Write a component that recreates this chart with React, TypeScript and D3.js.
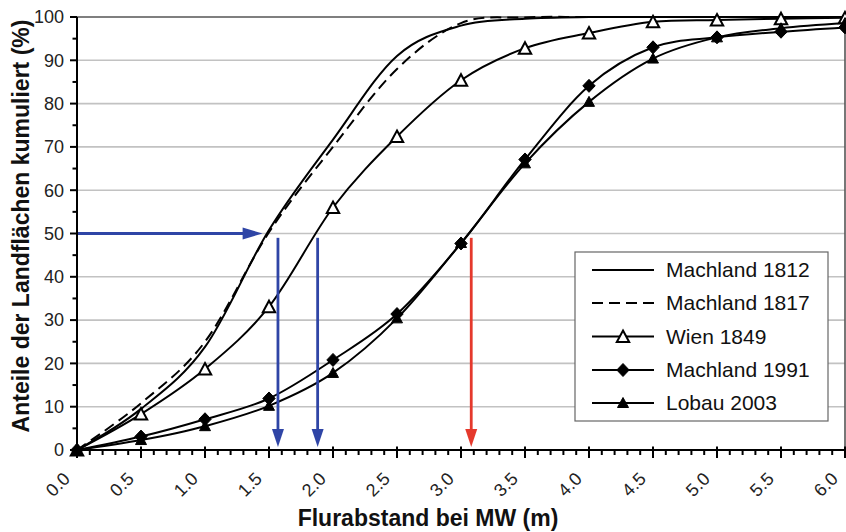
import React from 'react';
import * as d3 from 'd3';

// Flurabstand (m) at which the cumulative shares were read
const depths = [0, 0.5, 1.0, 1.5, 2.0, 2.5, 3.0, 3.5, 4.0, 4.5, 5.0, 5.5, 6.0];

// cumulative share of land area (%)
const machland1812 = [0, 9.5, 23.8, 50.8, 71.7, 91.0, 98.0, 99.6, 100, 100, 100, 100, 100];
const machland1817 = [0, 10.8, 25.0, 50.3, 70.0, 88.0, 98.6, 99.9, 100, 100, 100, 100, 100];
const wien1849 = [0, 8.3, 18.7, 33.1, 56.0, 72.4, 85.4, 92.8, 96.3, 98.9, 99.3, 99.6, 99.8];
const machland1991 = [0, 3.1, 7.1, 11.9, 20.8, 31.4, 47.7, 67.1, 84.1, 93.0, 95.3, 96.6, 97.6];
const lobau2003 = [0, 2.3, 5.5, 10.2, 17.8, 30.4, 47.8, 66.2, 80.4, 90.4, 95.3, 97.4, 98.6];

const seriesNames = ['Machland 1812', 'Machland 1817', 'Wien 1849', 'Machland 1991', 'Lobau 2003'];

const xTickLabels = ['0.0', '0.5', '1.0', '1.5', '2.0', '2.5', '3.0', '3.5', '4.0', '4.5', '5.0', '5.5', '6.0'];
const yTickValues = [0, 10, 20, 30, 40, 50, 60, 70, 80, 90, 100];

// median arrows: horizontal at 50 %, then down to the depth axis
const arrowLevel = 50;
const arrowEndX = 1.45;
const dropDepths = [1.57, 1.88, 3.08];
const dropColors = ['#2f45a6', '#2f45a6', '#e5392c'];

const FONT = 'Liberation Sans, Arial, Helvetica, sans-serif';

const x = d3.scaleLinear().domain([0, 6]).range([77, 845]);
const y = d3.scaleLinear().domain([0, 100]).range([450, 17]);

const line = d3
  .line<[number, number]>()
  .x(d => x(d[0]))
  .y(d => y(d[1]))
  .curve(d3.curveCatmullRom.alpha(0));

type Marker = 'none' | 'openTri' | 'diamond' | 'tri';

const series: { name: string; values: number[]; dash?: string; marker: Marker }[] = [
  { name: seriesNames[0], values: machland1812, marker: 'none' },
  { name: seriesNames[1], values: machland1817, dash: '11,6', marker: 'none' },
  { name: seriesNames[2], values: wien1849, marker: 'openTri' },
  { name: seriesNames[3], values: machland1991, marker: 'diamond' },
  { name: seriesNames[4], values: lobau2003, marker: 'tri' },
];

function MarkerShape({ type, cx, cy }: { type: Marker; cx: number; cy: number }) {
  if (type === 'openTri')
    return (
      <path
        d={`M${cx},${cy - 6} L${cx + 6.2},${cy + 5.5} L${cx - 6.2},${cy + 5.5} Z`}
        fill="#fff"
        stroke="#000"
        strokeWidth={2}
      />
    );
  if (type === 'diamond')
    return (
      <path
        d={`M${cx},${cy - 6.5} L${cx + 6.2},${cy} L${cx},${cy + 6.5} L${cx - 6.2},${cy} Z`}
        fill="#000"
        stroke="#000"
        strokeWidth={1}
      />
    );
  if (type === 'tri')
    return (
      <path
        d={`M${cx},${cy - 5.5} L${cx + 5.5},${cy + 4.5} L${cx - 5.5},${cy + 4.5} Z`}
        fill="#000"
        stroke="#000"
        strokeWidth={1}
      />
    );
  return null;
}

export default function App() {
  const minorX = d3.range(0, 61).map(i => i / 10);
  const minorY = d3.range(0, 101, 5);
  const legendRows = [270, 303, 336.5, 370, 403];

  return (
    <svg
      width={846}
      height={532}
      style={{ position: 'absolute', left: 0, top: 0, background: '#fff' }}
      fontFamily={FONT}
    >
      <rect width={846} height={532} fill="#fff" />

      {/* gridlines */}
      {yTickValues.slice(1, -1).map(v => (
        <line key={v} x1={x(0)} x2={x(6)} y1={y(v)} y2={y(v)} stroke="#c2c2c2" strokeWidth={1.6} />
      ))}
      <line x1={x(0)} x2={x(6)} y1={y(100)} y2={y(100)} stroke="#555" strokeWidth={1.6} />
      <line x1={x(6)} x2={x(6)} y1={y(100)} y2={y(0)} stroke="#555" strokeWidth={1.6} />

      {/* series */}
      {series.map(s => (
        <path
          key={s.name}
          d={line(depths.map((d, i) => [d, s.values[i]] as [number, number])) || ''}
          fill="none"
          stroke="#000"
          strokeWidth={2}
          strokeDasharray={s.dash}
        />
      ))}
      {series.map(s =>
        s.marker === 'none'
          ? null
          : depths.map((d, i) => (
              <MarkerShape key={s.name + i} type={s.marker} cx={x(d)} cy={y(s.values[i])} />
            ))
      )}

      {/* arrows */}
      <line x1={x(0)} x2={x(arrowEndX) - 18} y1={y(arrowLevel)} y2={y(arrowLevel)} stroke={dropColors[0]} strokeWidth={2.8} />
      <path
        d={`M${x(arrowEndX)},${y(arrowLevel)} L${x(arrowEndX) - 20},${y(arrowLevel) - 6} L${x(arrowEndX) - 20},${y(arrowLevel) + 6} Z`}
        fill={dropColors[0]}
      />
      {dropDepths.map((d, i) => (
        <g key={d}>
          <line x1={x(d)} x2={x(d)} y1={y(49)} y2={y(0.7) - 16} stroke={dropColors[i]} strokeWidth={2.8} />
          <path
            d={`M${x(d)},${y(0.7)} L${x(d) - 6},${y(0.7) - 18} L${x(d) + 6},${y(0.7) - 18} Z`}
            fill={dropColors[i]}
          />
        </g>
      ))}

      {/* y axis */}
      <line x1={x(0)} x2={x(0)} y1={y(0) + 1} y2={y(100)} stroke="#000" strokeWidth={2} />
      {minorY.map(v => (
        <line
          key={v}
          x1={x(0) - (v % 10 === 0 ? 7 : 4.5)}
          x2={x(0)}
          y1={y(v)}
          y2={y(v)}
          stroke="#000"
          strokeWidth={2}
        />
      ))}
      {yTickValues.map(v => (
        <text key={v} x={64} y={y(v)} dy="0.35em" textAnchor="end" fontSize={18} fill="#222">
          {v}
        </text>
      ))}

      {/* x axis */}
      <line x1={x(0) - 1} x2={x(6)} y1={y(0)} y2={y(0)} stroke="#000" strokeWidth={2} />
      {minorX.map((v, i) => (
        <line
          key={i}
          x1={x(v)}
          x2={x(v)}
          y1={i % 5 === 0 ? y(0) - 3.5 : y(0)}
          y2={i % 5 === 0 ? y(0) + 8 : y(0) + 5}
          stroke="#000"
          strokeWidth={2}
        />
      ))}
      {xTickLabels.map((t, i) => (
        <text
          key={t}
          transform={`translate(${x(depths[i]) - 6},${480}) rotate(-45)`}
          textAnchor="end"
          fontSize={18}
          fill="#222"
        >
          {t}
        </text>
      ))}

      {/* axis titles */}
      <text x={428} y={526} textAnchor="middle" fontSize={23} fontWeight="bold" fill="#111">
        Flurabstand bei MW (m)
      </text>
      <text transform="translate(29,226) rotate(-90)" textAnchor="middle" fontSize={23} fontWeight="bold" fill="#111">
        Anteile der Landflächen kumuliert (%)
      </text>

      {/* legend */}
      <rect x={575} y={252} width={253} height={169} fill="#fff" stroke="#666" strokeWidth={1.2} />
      {series.map((s, i) => (
        <g key={s.name}>
          <line x1={592} x2={654} y1={legendRows[i]} y2={legendRows[i]} stroke="#000" strokeWidth={2} strokeDasharray={s.dash} />
          <MarkerShape type={s.marker} cx={623} cy={legendRows[i]} />
          <text x={666} y={legendRows[i]} dy="0.35em" fontSize={21} fill="#111">
            {s.name}
          </text>
        </g>
      ))}
    </svg>
  );
}
